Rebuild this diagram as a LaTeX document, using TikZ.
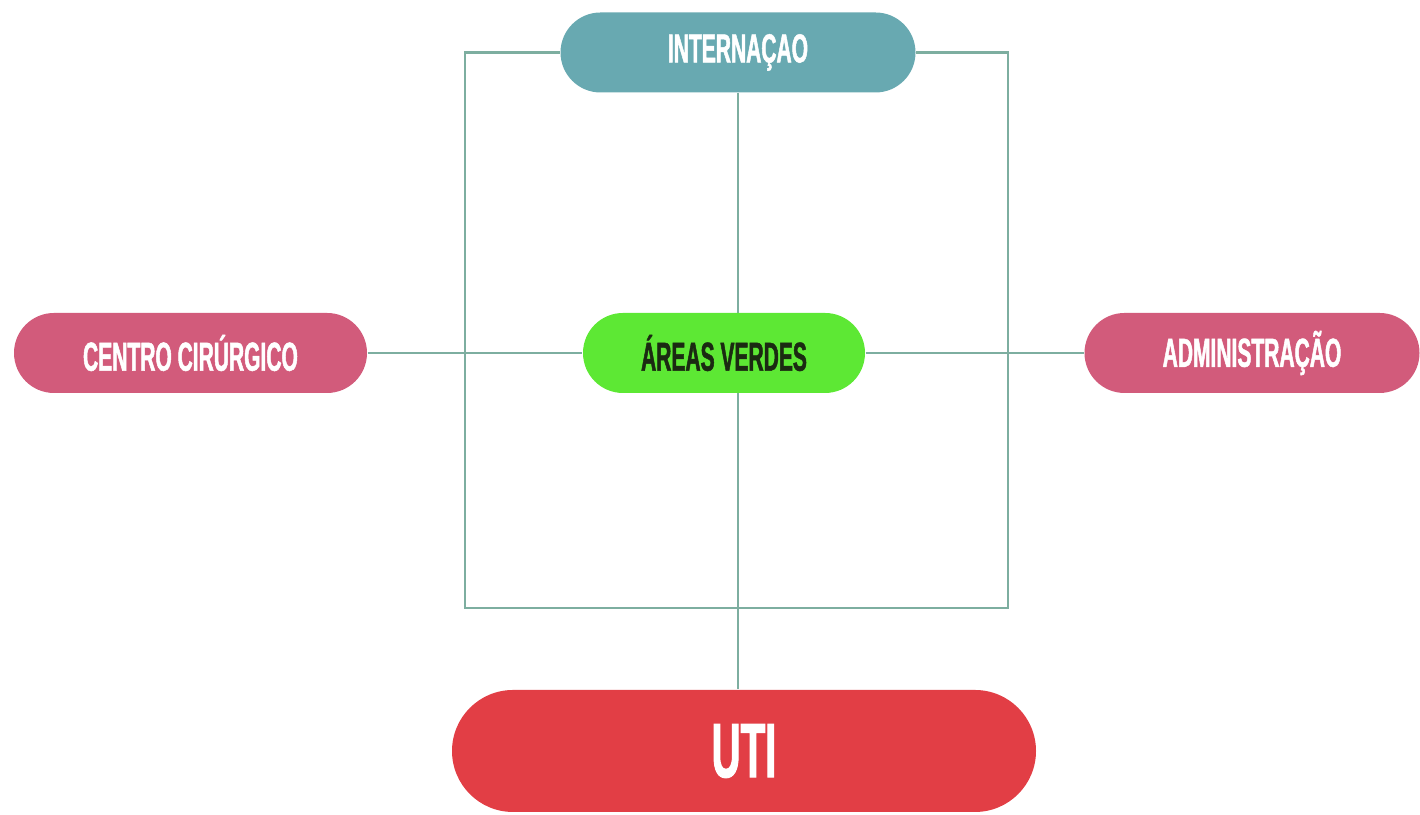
\documentclass[tikz,border=0pt]{standalone}
\usepackage{fontspec}
\usepackage{tikz}
\usetikzlibrary{backgrounds}
\usepackage{xcolor}
\newfontfamily\boxfont{Liberation Sans}[FakeStretch=0.52,FakeBold=1.2]
\definecolor{tealbox}{HTML}{68A9B1}
\definecolor{pinkbox}{HTML}{D25B7B}
\definecolor{greenbox}{HTML}{5DE834}
\definecolor{redbox}{HTML}{E23E45}
\definecolor{linkgray}{HTML}{7DAEA0}
\definecolor{darktext}{HTML}{1B2A12}

\begin{document}
\begin{tikzpicture}[font=\boxfont\bfseries\fontsize{11.5}{13}\selectfont,
  pill/.style={rectangle,rounded corners=0.4cm,text=white,inner sep=0pt,minimum height=0.8cm},
  link/.style={linkgray,line width=0.8pt}]
\useasboundingbox (0,0) rectangle (14.2,8.15);
\node[pill,fill=tealbox,minimum width=3.55cm] (intern) at (7.38,7.625) {INTERNAÇAO};
\node[pill,fill=pinkbox,minimum width=3.53cm] (centro) at (1.905,4.62) {CENTRO CIRÚRGICO};
\node[pill,fill=greenbox,text=darktext,minimum width=2.82cm] (areas) at (7.24,4.62) {ÁREAS VERDES};
\node[pill,fill=pinkbox,minimum width=3.35cm] (admin) at (12.52,4.62) {ADMINISTRAÇÃO};
\node[pill,fill=redbox,minimum width=5.84cm,minimum height=1.22cm,rounded corners=0.61cm,
  font=\boxfont\bfseries\fontsize{22}{26}\selectfont] (uti) at (7.44,0.64) {UTI};
\coordinate (boxnw) at (4.65,7.625);
\coordinate (boxse) at (10.08,2.07);
% connectors go under the boxes
\begin{scope}[on background layer]
\draw[link] (intern.west) -- (boxnw) |- (boxse) |- (intern.east);
\draw[link] (intern.south) -- (intern.south |- uti.north);
\draw[link] (centro.east) -- (areas.west);
\draw[link] (areas.east) -- (admin.west);
\end{scope}
\end{tikzpicture}
\end{document}
